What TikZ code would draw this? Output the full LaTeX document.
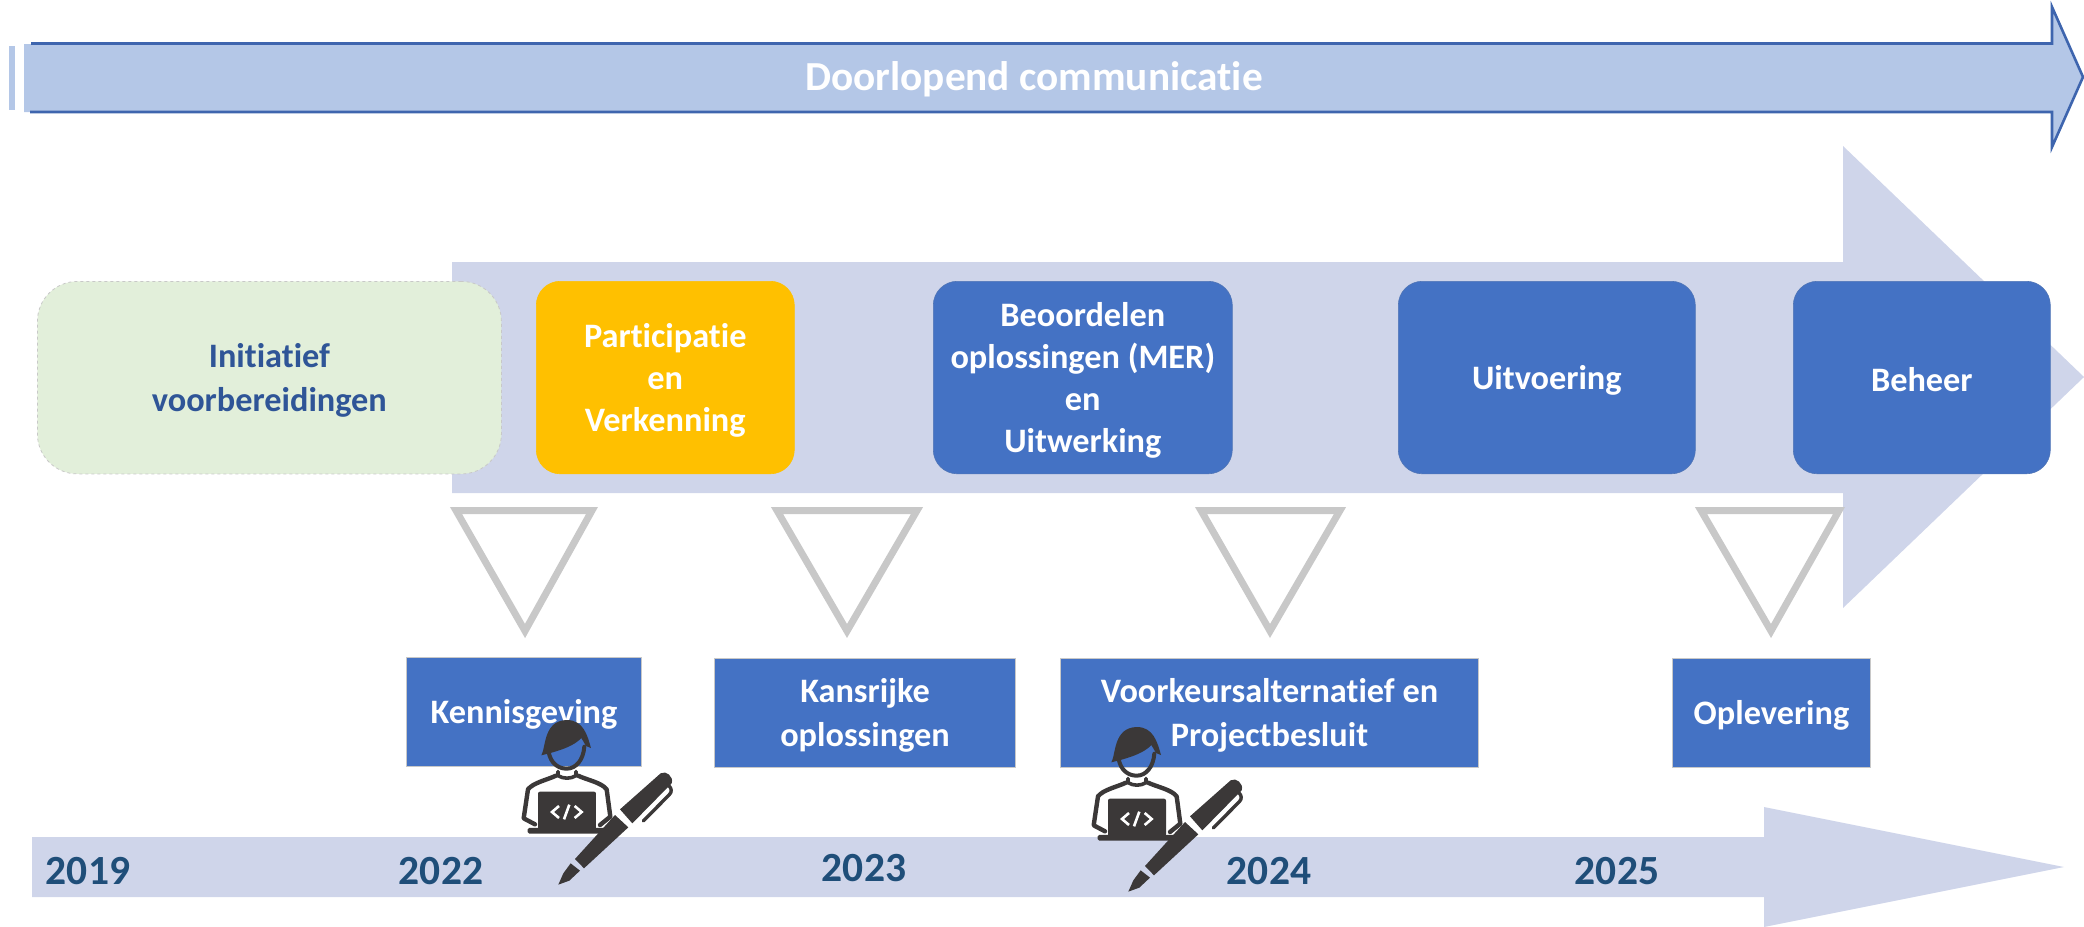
\documentclass[tikz,border=0pt]{standalone}
\usepackage{fontspec}
\setmainfont{Carlito}[Ligatures={TeX,NoCommon}]
\definecolor{topfill}{HTML}{B4C7E7}
\definecolor{topline}{HTML}{3E65AE}
\definecolor{softarrow}{HTML}{CFD5EA}
\definecolor{boxblue}{HTML}{4472C4}
\definecolor{boxgold}{HTML}{FFC000}
\definecolor{boxgreen}{HTML}{E2EFDA}
\definecolor{greentext}{HTML}{2F5597}
\definecolor{yeartext}{HTML}{1F4E79}
\definecolor{trigrey}{HTML}{C8C8C8}
\definecolor{icondark}{HTML}{3B3838}
\tikzset{
  x=1pt,y=-1pt,
  labeltext/.style={font=\fontsize{34.3}{42}\selectfont\bfseries,text=white,align=center,inner sep=0pt,yshift=-2.5pt},
  boxtext/.style={label={[labeltext]center:{#1}}},
  greenbox/.style={label={[labeltext,text=greentext]center:{#1}}},
  phasebox/.style={fill=boxblue,draw=boxblue!80!gray,line width=0.6pt,rounded corners=24pt,inner sep=0pt,anchor=north west,minimum width=#1,minimum height=192.5pt},
  milestone/.style={fill=boxblue,draw=trigrey,line width=1pt,inner sep=0pt,anchor=north west,minimum width=#1,minimum height=109pt},
  yearlabel/.style={font=\fontsize{41.5}{41.5}\selectfont\bfseries,text=yeartext,inner sep=0pt},
  marker/.style={draw=trigrey,fill=white,line width=7pt,miter limit=10,line join=miter},
  devicon/.pic={
    \begin{scope}[x=0.3333pt,y=-0.3333pt]
      % hair
      \fill[icondark] (124,136) .. controls (138,112) and (130,32) .. (200,30)
        .. controls (250,30) and (262,75) .. (273,114) -- (258,108)
        .. controls (252,98) and (248,90) .. (244,84)
        .. controls (225,105) and (190,120) .. (124,136) -- cycle;
      % face
      \draw[icondark,line width=4pt,line cap=round] (146,126) .. controls (152,160) and (175,176) .. (200,176)
        .. controls (228,176) and (250,150) .. (253,110);
      % collar and shoulders
      \draw[icondark,line width=3.6pt,line join=round,line cap=round]
        (174,184) -- (174,197) .. controls (190,207) and (212,207) .. (228,197) -- (228,184);
      \draw[icondark,line width=4.4pt,line join=round,line cap=round]
        (168,197) .. controls (140,210) and (100,218) .. (84,238) -- (71,325) -- (105,343);
      \draw[icondark,line width=4.4pt,line join=round,line cap=round]
        (234,197) .. controls (262,210) and (305,218) .. (320,238) -- (331,320) -- (300,345);
      % laptop
      \fill[icondark,rounded corners=2pt] (114,245) rectangle (288,358);
      \fill[icondark,rounded corners=1.5pt] (83,354) rectangle (318,371);
      \draw[white,line width=2.6pt] (177,288) -- (156,306) -- (177,324)
        (224,288) -- (245,306) -- (224,324);
      \draw[white,line width=2.6pt] (208,284) -- (192,328);
      % pen
      \fill[icondark] (175,524) -- (190,490) -- (212,460) -- (240,482) -- (208,512) -- cycle;
      \fill[icondark] (225,447) -- (345,315) -- (385,352) -- (252,475) -- cycle;
      \fill[icondark] (360,298) -- (482,190) .. controls (498,180) and (522,200) .. (515,220) -- (397,340) -- cycle;
      \draw[icondark,line width=3.4pt,line cap=round,line join=round]
        (506,226) .. controls (516,236) and (516,246) .. (508,254) -- (430,333);
    \end{scope}
  }
}
\begin{document}
\begin{tikzpicture}
\useasboundingbox (0,0) rectangle (2084,926);
% top arrow
\fill[topfill] (9,46) rectangle (15,110);
\fill[topfill] (24,44) -- (2052,44) -- (2052,6) -- (2083,77) -- (2052,148) -- (2052,112) -- (24,112) -- cycle;
\draw[topline,line width=2.6pt,miter limit=10] (31,43.5) -- (2052,43.5) -- (2052,7) -- (2083,77) -- (2052,147) -- (2052,112) -- (30,112);
\node[font=\fontsize{41.3}{41.3}\selectfont\bfseries,text=white,inner sep=0pt] (comm) at (1034,79) {Doorlopend communicatie};
% main arrow
\fill[softarrow] (452,262) -- (1843,262) -- (1843,146) -- (2084,377) -- (1843,608) -- (1843,493) -- (452,493) -- cycle;
% markers
\draw[marker] (456,510.5) -- (592,510.5) -- (525,631) -- cycle;
\draw[marker] (777,510.5) -- (917,510.5) -- (847,631) -- cycle;
\draw[marker] (1201,510.5) -- (1340,510.5) -- (1270,631) -- cycle;
\draw[marker] (1701,510.5) -- (1839,510.5) -- (1771,631) -- cycle;
% phases
\node[fill=boxgreen,draw=trigrey,dashed,line width=0.8pt,rounded corners=40pt,inner sep=0pt,anchor=north west,minimum width=464pt,minimum height=192.5pt,greenbox={Initiatief\\[2pt]voorbereidingen}] (init) at (37,281) {};
\node[phasebox=258pt,fill=boxgold,draw=boxgold,boxtext={Participatie\\en\\Verkenning}] (part) at (536,281) {};
\node[phasebox=299pt,boxtext={Beoordelen\\oplossingen (MER)\\en\\Uitwerking}] (beoor) at (933,281) {};
\node[phasebox=297pt,boxtext={Uitvoering}] (uitv) at (1398,281) {};
\node[phasebox=257pt,boxtext={Beheer}] (beheer) at (1793,281) {};
% milestones
\node[milestone=235pt,boxtext={Kennisgeving}] (kennis) at (406,657) {};
\node[milestone=301pt,boxtext={Kansrijke\\[2pt]oplossingen}] (kans) at (714,658) {};
\node[milestone=418pt,boxtext={Voorkeursalternatief en\\[2pt]Projectbesluit}] (voork) at (1060,658) {};
\node[milestone=198pt,boxtext={Oplevering}] (oplev) at (1672,658) {};
% year arrow
\fill[softarrow] (32,837) -- (1764,837) -- (1764,807) -- (2064,867) -- (1764,927) -- (1764,897) -- (32,897) -- cycle;
\node[yearlabel] (y19) at (88,871) {2019};
\node[yearlabel] (y22) at (441,871) {2022};
\node[yearlabel] (y23) at (864,868) {2023};
\node[yearlabel] (y24) at (1269,871) {2024};
\node[yearlabel] (y25) at (1617,871) {2025};
% icons
\pic at (500,710) {devicon};
\pic at (1070,717) {devicon};
\end{tikzpicture}
\end{document}
